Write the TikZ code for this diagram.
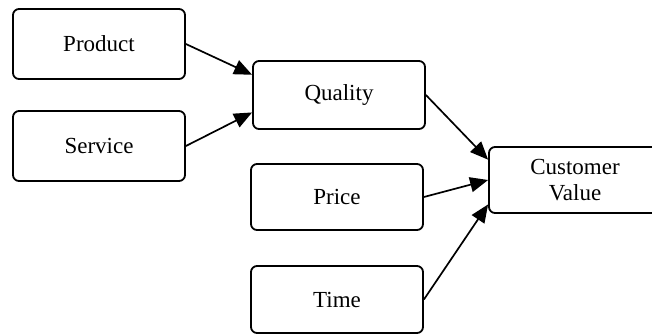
\documentclass[tikz,border=0pt]{standalone}
\usepackage{fontspec}
\setmainfont{Liberation Serif}
\usetikzlibrary{arrows.meta,calc}
\begin{document}
\begin{tikzpicture}[x=1pt,y=-1pt,
  box/.style={draw=black, line width=1.8pt, rounded corners=6pt, fill=white,
    minimum width=172pt, inner sep=0pt, align=center,
    font=\fontsize{23}{26}\selectfont},
  conn/.style={line width=1.7pt, -{Triangle[length=18pt,width=15pt]}}]
\useasboundingbox (0,0) rectangle (652,335);
\node[box, minimum height=70pt] (prod) at (99,44) {Product};
\node[box, minimum height=70pt] (serv) at (99,146) {Service};
\node[box, minimum height=68pt] (qual) at (339,95) {Quality};
\node[box, minimum height=66pt] (price) at (337,197) {Price};
\node[box, minimum height=67pt] (time) at (337,299.5) {Time};
\node[box, minimum height=66pt] (cv) at (575,180) {Customer\\Value};
\draw[conn] (prod.east) -- ($(qual.north west)!0.21!(qual.south west)$);
\draw[conn] (serv.east) -- ($(qual.north west)!0.75!(qual.south west)$);
\draw[conn] (qual.east) -- ($(cv.north west)!0.2!(cv.south west)$);
\draw[conn] (price.east) -- ($(cv.north west)!0.5!(cv.south west)$);
\draw[conn] (time.east) -- ($(cv.north west)!0.86!(cv.south west)$);
\end{tikzpicture}
\end{document}
